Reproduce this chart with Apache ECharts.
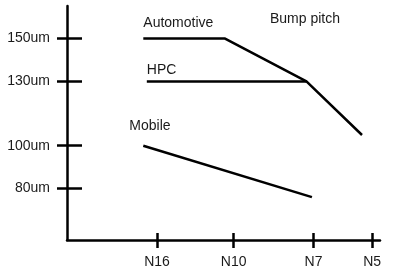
<!DOCTYPE html>
<html>
<head>
<meta charset="utf-8">
<script src="https://cdn.jsdelivr.net/npm/echarts@6/dist/echarts.min.js"></script>
<style>
html,body{margin:0;padding:0;background:#fff;}
#c{width:393px;height:280px;}
</style>
</head>
<body>
<div id="c"></div>
<script>
// Schematic chart: bump pitch vs. process node
const nodeLabels = ['N16', 'N10', 'N7', 'N5'];
const nodePos = [1.15, 2.13, 3.15, 3.9];      // node tick positions along the (schematic) x scale
const pitchTicks = [80, 100, 130, 150];       // um

const autoX = [0.975, 2.02, 3.06, 3.77];
const autoY = [150, 150, 130, 105];
const hpcX = [1.02, 3.06];
const hpcY = [130, 130];
const mobileX = [0.975, 3.13];
const mobileY = [100, 76];

const FONT = "'Liberation Sans', Arial, sans-serif";
const TXT = '#1a1a1a';

function pairs(xs, ys) { return xs.map((x, i) => [x, ys[i]]); }
function nodeName(v) {
  for (let i = 0; i < nodePos.length; i++) if (Math.abs(nodePos[i] - v) < 1e-6) return nodeLabels[i];
  return '';
}

function lineSeries(name, xs, ys, offset) {
  return {
    type: 'line', name: name, data: pairs(xs, ys),
    xAxisIndex: 0, yAxisIndex: 0,
    symbol: 'circle', symbolSize: 0.1, showSymbol: true,
    itemStyle: { color: '#000' },
    lineStyle: { color: '#000', width: 2.5 },
    label: {
      show: true, position: 'top', align: 'left', offset: offset,
      formatter: p => p.dataIndex === 0 ? p.seriesName : '',
      color: TXT, fontSize: 14, fontFamily: FONT
    },
    emphasis: { disabled: true },
    silent: true
  };
}

const chart = echarts.init(document.getElementById('c'), null, { renderer: 'canvas' });
chart.setOption({
  animation: false,
  backgroundColor: '#fff',
  title: {
    text: 'Bump pitch', left: 270, top: 12, padding: 0,
    textStyle: { fontSize: 14, fontWeight: 'normal', color: TXT, fontFamily: FONT }
  },
  grid: { left: 67, right: 13, top: 6, bottom: 40, containLabel: false, outerBoundsMode: 'none' },
  xAxis: [
    {
      type: 'value', min: 0, max: 4, position: 'bottom',
      axisLine: { show: true, lineStyle: { color: '#000', width: 2.5 } },
      axisTick: { show: true, inside: false, length: 8, customValues: nodePos, lineStyle: { color: '#000', width: 2.5 } },
      axisLabel: { show: true, customValues: nodePos, formatter: nodeName, margin: 15, color: TXT, fontSize: 14, fontFamily: FONT },
      splitLine: { show: false }
    },
    {
      type: 'value', min: 0, max: 4, position: 'bottom',
      axisLine: { show: false },
      axisTick: { show: true, inside: true, length: 7, customValues: nodePos, lineStyle: { color: '#000', width: 2.5 } },
      axisLabel: { show: false },
      splitLine: { show: false }
    }
  ],
  yAxis: [
    {
      type: 'value', min: 56, max: 165.2, position: 'left',
      axisLine: { show: true, lineStyle: { color: '#000', width: 2.5 } },
      axisTick: { show: true, inside: false, length: 10, customValues: pitchTicks, lineStyle: { color: '#000', width: 2.5 } },
      axisLabel: { show: true, customValues: pitchTicks, formatter: v => v + 'um', margin: 17, color: TXT, fontSize: 14, fontFamily: FONT },
      splitLine: { show: false }
    },
    {
      type: 'value', min: 56, max: 165.2, position: 'left',
      axisLine: { show: false },
      axisTick: { show: true, inside: true, length: 15, customValues: pitchTicks, lineStyle: { color: '#000', width: 2.5 } },
      axisLabel: { show: false },
      splitLine: { show: false }
    }
  ],
  series: [
    lineSeries('Automotive', autoX, autoY, [0, -3]),
    lineSeries('HPC', hpcX, hpcY, [0, 1]),
    lineSeries('Mobile', mobileX, mobileY, [-14, -8])
  ]
});
</script>
</body>
</html>
